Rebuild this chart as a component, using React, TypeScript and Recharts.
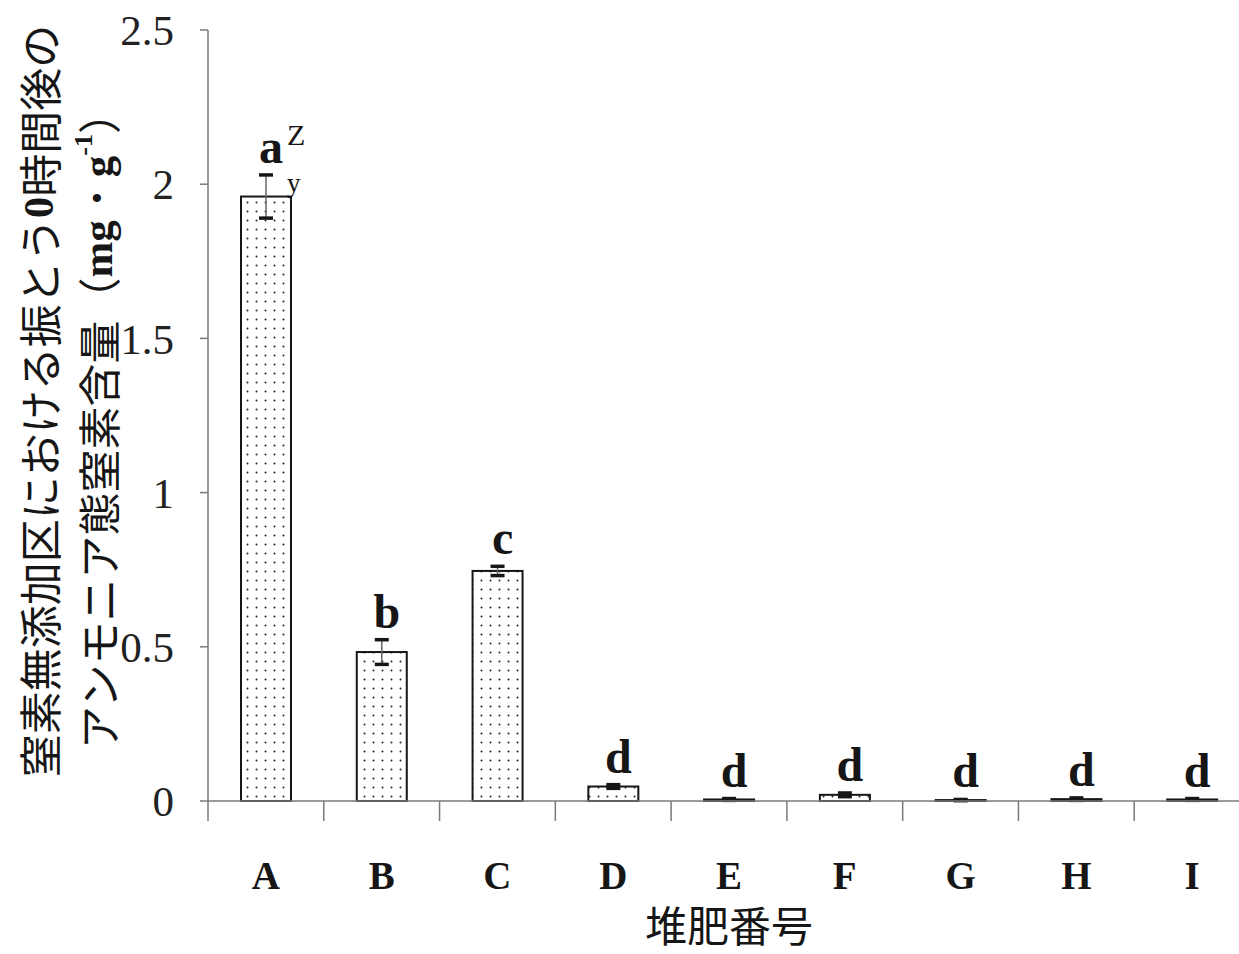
import { Bar, BarChart, XAxis, YAxis } from 'recharts'

const categories = ['A', 'B', 'C', 'D', 'E', 'F', 'G', 'H', 'I']
const means = [1.96, 0.483, 0.746, 0.047, 0.005, 0.02, 0.003, 0.006, 0.005]
const errors = [0.07, 0.04, 0.015, 0.006, 0.003, 0.006, 0.002, 0.004, 0.003]
const letters = ['a', 'b', 'c', 'd', 'd', 'd', 'd', 'd', 'd']
const supers = ['Z', '', '', '', '', '', '', '', '']
const subs = ['y', '', '', '', '', '', '', '', '']
const yTicks = [0, 0.5, 1, 1.5, 2, 2.5]
const edgeTicks = [0, 1, 2, 3, 4, 5, 6, 7, 8, 9]

const SERIF = '"Liberation Serif", "Times New Roman", serif'
const CJK = '"Noto Sans CJK JP", sans-serif'
const AXIS = '#7a7a7a'
const INK = '#161616'

const data = categories.map((name, i) => ({
  name,
  value: means[i],
  err: errors[i],
  letter: letters[i],
  sup: supers[i],
  sub: subs[i],
}))

// slot index of a category on the numeric boundary axis
const slotOf = (d: any) => categories.indexOf(d.name) + 0.5

function DottedBar(props: any) {
  const { x, y, width, height, payload } = props
  const k = payload.value > 0 ? height / payload.value : 0
  const cx = x + width / 2
  const top = y - payload.err * k
  const bot = y + payload.err * k
  const labelY = top - 12
  return (
    <g>
      <rect x={x} y={y} width={width} height={height} fill="url(#dots)" stroke={INK} strokeWidth={2} />
      <line x1={cx} x2={cx} y1={top} y2={bot} stroke="#666" strokeWidth={1.5} />
      <line x1={cx - 7} x2={cx + 7} y1={top} y2={top} stroke={INK} strokeWidth={3.5} />
      <line x1={cx - 7} x2={cx + 7} y1={bot} y2={bot} stroke={INK} strokeWidth={3.5} />
      <text x={cx + 5} y={labelY} textAnchor="middle" fontFamily={SERIF} fontWeight="bold" fontSize={48} fill={INK}>
        {payload.letter}
      </text>
      {payload.sup && (
        <text x={cx + 21} y={labelY - 18} fontFamily={SERIF} fontSize={30} fill={INK}>
          {payload.sup}
        </text>
      )}
      {payload.sub && (
        <text x={cx + 21} y={top + 17} fontFamily={SERIF} fontSize={27} fill={INK}>
          {payload.sub}
        </text>
      )}
    </g>
  )
}

function YTitle() {
  return (
    <g fill={INK} fontSize={43} fontFamily={CJK}>
      <text transform="translate(38,401) rotate(-90)" textAnchor="middle" dominantBaseline="central">
        窒素無添加区における振とう
        <tspan fontFamily={SERIF} fontWeight="bold">0</tspan>
        時間後の
      </text>
      <text transform="translate(97,420) rotate(-90)" textAnchor="middle" dominantBaseline="central">
        アンモニア態窒素含量（
        <tspan fontFamily={SERIF} fontWeight="bold">mg・g</tspan>
        <tspan fontFamily={SERIF} fontWeight="bold" fontSize={26} dy={-14}>-1</tspan>
        <tspan dy={14}>）</tspan>
      </text>
    </g>
  )
}

const NoLabel = () => <g />

export default function App() {
  return (
    <div style={{ position: 'absolute', left: 0, top: 0, width: 1239, height: 954, overflow: 'hidden', background: '#fff' }}>
      <BarChart width={1250} height={954} data={data} margin={{ top: 30, right: 0, bottom: 0, left: 0 }} barSize={50}>
        <defs>
          <pattern id="dots" width={9} height={9} patternUnits="userSpaceOnUse">
            <rect width={9} height={9} fill="#fff" />
            <circle cx={4.5} cy={4.5} r={1} fill="#222" />
          </pattern>
        </defs>
        {/* boundary ticks between categories, sits right under the plot */}
        <XAxis
          xAxisId={0}
          type="number"
          dataKey={slotOf}
          domain={[0, 9]}
          allowDataOverflow
          ticks={edgeTicks}
          tick={NoLabel}
          interval={0}
          axisLine={{ stroke: AXIS, strokeWidth: 1.5 }}
          tickLine={{ stroke: AXIS, strokeWidth: 1.5 }}
          tickSize={20}
          height={20}
        />
        <XAxis
          xAxisId={1}
          dataKey="name"
          height={133}
          tickLine={false}
          axisLine={false}
          tickMargin={34}
          tick={{ fontFamily: SERIF, fontWeight: 'bold', fontSize: 39, fill: INK }}
          label={{ value: '堆肥番号', position: 'insideBottom', offset: 12, style: { fontFamily: CJK, fontSize: 42, fill: INK } }}
        />
        <YAxis
          width={208}
          domain={[0, 2.5]}
          ticks={yTicks}
          tickSize={8}
          tickMargin={26}
          tickLine={{ stroke: AXIS, strokeWidth: 1.5 }}
          axisLine={{ stroke: AXIS, strokeWidth: 1.5 }}
          tick={{ fontFamily: SERIF, fontSize: 43, fill: '#222' }}
          label={{ content: YTitle }}
        />
        <Bar xAxisId={1} dataKey="value" shape={DottedBar} isAnimationActive={false} />
      </BarChart>
    </div>
  )
}
